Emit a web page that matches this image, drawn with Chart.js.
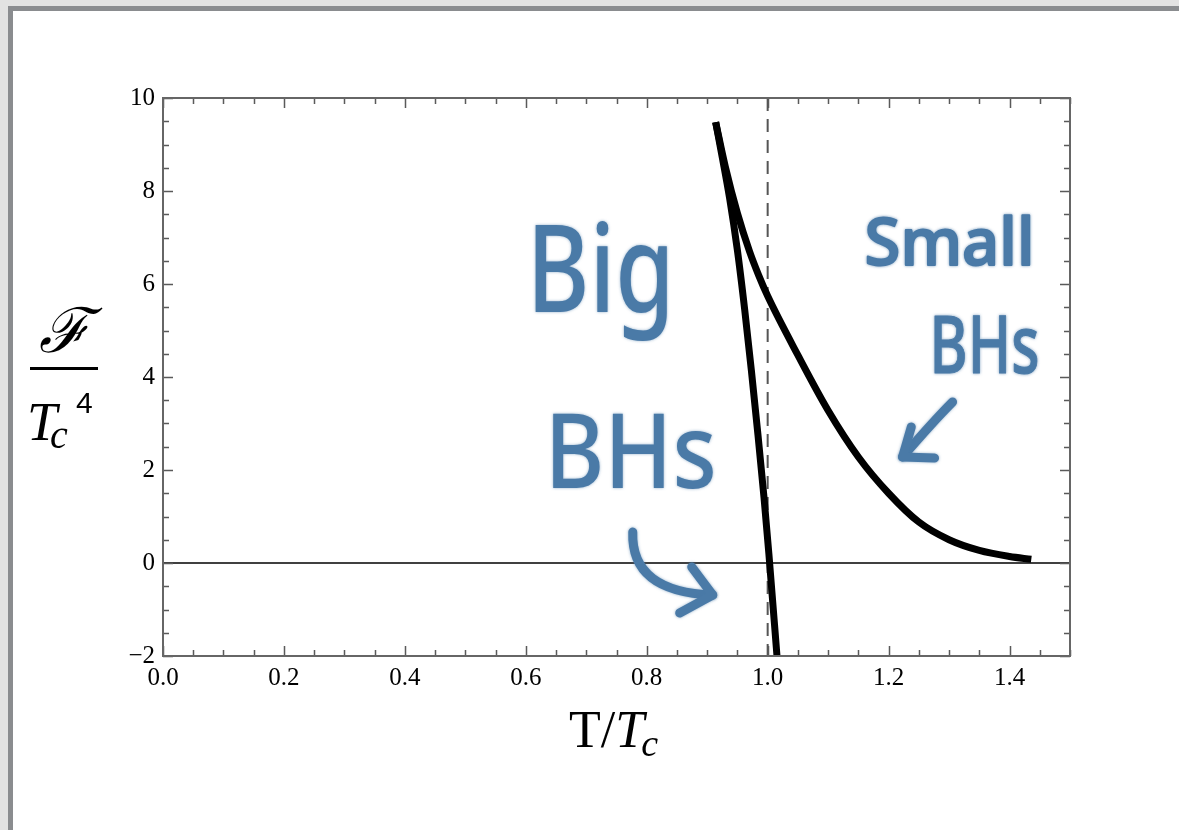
<!DOCTYPE html>
<html><head><meta charset="utf-8">
<script src="https://cdn.jsdelivr.net/npm/chart.js@4.4.0/dist/chart.umd.min.js"></script>
<style>html,body{margin:0;padding:0;background:#e2e2e2;overflow:hidden}canvas{display:block}</style>
</head><body>
<canvas id="c" width="1179" height="830" style="width:1179px;height:830px"></canvas>
<script>
// ---- data ----
const bigT   = [0.914, 0.925, 0.937, 0.950, 0.962, 0.973, 0.984, 0.994, 1.002, 1.0145, 1.016];
const bigF   = [9.48,  8.72,  7.85,  6.72,  5.45,  4.15,  2.75,  1.40,  0.20,  -1.85,  -2.10];
const smallT = [0.914, 0.930, 0.950, 0.970, 0.985, 1.000, 1.050, 1.100, 1.150, 1.200, 1.250, 1.300, 1.350, 1.400, 1.436];
const smallF = [9.48,  8.52,  7.52,  6.70,  6.19,  5.74,  4.47,  3.28,  2.28,  1.50,  0.88,  0.50,  0.27,  0.14,  0.08];
const xTickValues = [0.0, 0.2, 0.4, 0.6, 0.8, 1.0, 1.2, 1.4];
const yTickValues = [-2, 0, 2, 4, 6, 8, 10];
const criticalT = 1.0;

const toPts = (xs, ys) => xs.map((x, i) => ({x, y: ys[i]}));

// ---- annotation layout (data coordinates) ----
const BLUE = '#4a7aa7';
const notes = [
  {text: 'Big',   x0: 0.6017, x1: 0.8463, base: 5.40, size: 122, extra: 0},
  {text: 'BHs',   x0: 0.6314, x1: 0.9157, base: 1.61, size: 104, extra: 0},
  {text: 'Small', x0: 1.1603, x1: 1.4413, base: 6.41, size: 66,  extra: 2},
  {text: 'BHs',   x0: 1.2678, x1: 1.4496, base: 4.09, size: 80,  extra: 1}
];
const arrows = [
  {p0: [0.7769, 0.667], c: [0.7736, -0.624], p1: [0.9091, -0.688], w1: [0.8744, -0.086], w2: [0.8545, -1.075]},
  {p0: [1.3058, 3.462], c: [1.2744, 3.054],  p1: [1.2231, 2.280],  w1: [1.2375, 2.925],  w2: [1.2760, 2.258]}
];

const bgPlugin = {
  id: 'bg',
  beforeDraw(chart) {
    const ctx = chart.ctx;
    ctx.save();
    ctx.fillStyle = '#e2e2e2';
    ctx.fillRect(0, 0, 1179, 830);
    ctx.fillStyle = '#8a8c8f';
    ctx.fillRect(8, 6, 1200, 900);
    ctx.fillStyle = '#ffffff';
    ctx.fillRect(13, 11, 1200, 900);
    ctx.restore();
  },
  beforeDatasetsDraw(chart) {
    const {ctx, chartArea: a, scales: {x, y}} = chart;
    ctx.save();
    ctx.strokeStyle = '#000';
    ctx.lineWidth = 1.4;
    const y0 = y.getPixelForValue(0);
    ctx.beginPath(); ctx.moveTo(a.left, y0); ctx.lineTo(a.right, y0); ctx.stroke();
    ctx.strokeStyle = '#555';
    ctx.lineWidth = 2;
    ctx.setLineDash([13, 8]);
    const xc = x.getPixelForValue(criticalT);
    ctx.beginPath(); ctx.moveTo(xc, a.top); ctx.lineTo(xc, a.bottom); ctx.stroke();
    ctx.restore();
  },
  afterDatasetsDraw(chart) {
    const {ctx, chartArea: a, scales: {x, y}} = chart;
    ctx.save();
    ctx.strokeStyle = '#5a5a5a';
    ctx.lineWidth = 1.5;
    for (let k = 0; k <= 30; k++) {
      const v = k * 0.05;
      const major = k % 4 === 0;
      const len = major ? 10 : 6;
      const px = Math.round(x.getPixelForValue(v)) + 0.5;
      ctx.beginPath();
      ctx.moveTo(px, a.bottom); ctx.lineTo(px, a.bottom - len);
      ctx.moveTo(px, a.top); ctx.lineTo(px, a.top + len);
      ctx.stroke();
    }
    for (let k = 0; k <= 24; k++) {
      const v = -2 + k * 0.5;
      const major = k % 4 === 0;
      const len = major ? 10 : 6;
      const py = Math.round(y.getPixelForValue(v)) + 0.5;
      ctx.beginPath();
      ctx.moveTo(a.left, py); ctx.lineTo(a.left + len, py);
      ctx.moveTo(a.right, py); ctx.lineTo(a.right - len, py);
      ctx.stroke();
    }
    ctx.strokeStyle = '#666';
    ctx.lineWidth = 2;
    ctx.strokeRect(a.left, a.top, a.right - a.left, a.bottom - a.top);
    ctx.restore();
  },
  afterDraw(chart) {
    const {ctx, scales: {x, y}} = chart;
    ctx.save();
    ctx.fillStyle = '#000';
    ctx.textBaseline = 'alphabetic';
    ctx.textAlign = 'left';
    let cx = 569;
    ctx.font = "52px 'Liberation Serif'";
    ctx.fillText('T/', cx, 747);
    cx += ctx.measureText('T/').width;
    ctx.font = "italic 52px 'Liberation Serif'";
    ctx.fillText('T', cx, 747);
    cx += ctx.measureText('T').width - 3;
    ctx.font = "italic 38px 'Liberation Serif'";
    ctx.fillText('c', cx, 756);

    // y title: fraction  F / Tc^4
    ctx.textAlign = 'center';
    ctx.font = "italic 62px 'Liberation Serif', 'DejaVu Serif'";
    ctx.fillText('\u2131', 64, 352);
    ctx.fillRect(30, 367, 68, 3);
    ctx.textAlign = 'left';
    ctx.font = "italic 54px 'Liberation Serif'";
    ctx.fillText('T', 27, 440);
    ctx.font = "italic 40px 'Liberation Serif'";
    ctx.fillText('c', 50, 448);
    ctx.font = "30px 'Liberation Sans'";
    ctx.fillText('4', 76, 413);

    // hand-drawn notes
    ctx.fillStyle = BLUE;
    ctx.strokeStyle = BLUE;
    ctx.lineJoin = 'round';
    ctx.lineCap = 'round';
    ctx.shadowColor = 'rgba(74,122,167,0.6)';
    ctx.shadowBlur = 3;
    notes.forEach(n => {
      const p0 = x.getPixelForValue(n.x0), p1 = x.getPixelForValue(n.x1);
      const pb = y.getPixelForValue(n.base);
      ctx.font = `500 ${n.size}px 'Noto Sans'`;
      const w = ctx.measureText(n.text).width;
      const sx = (p1 - p0) / w;
      ctx.save();
      ctx.translate(p0, pb);
      ctx.scale(sx, 1);
      if (n.extra) { ctx.lineWidth = n.extra; ctx.strokeText(n.text, 0, 0); }
      ctx.fillText(n.text, 0, 0);
      ctx.restore();
    });
    ctx.lineWidth = 9;
    const P = pt => [x.getPixelForValue(pt[0]), y.getPixelForValue(pt[1])];
    arrows.forEach(ar => {
      const a0 = P(ar.p0), c = P(ar.c), a1 = P(ar.p1), w1 = P(ar.w1), w2 = P(ar.w2);
      ctx.beginPath();
      ctx.moveTo(a0[0], a0[1]);
      ctx.quadraticCurveTo(c[0], c[1], a1[0], a1[1]);
      ctx.stroke();
      ctx.beginPath();
      ctx.moveTo(w1[0], w1[1]); ctx.lineTo(a1[0], a1[1]); ctx.lineTo(w2[0], w2[1]);
      ctx.stroke();
    });
    ctx.restore();
  }
};

const tickFont = {family: "'Liberation Serif'", size: 25};

new Chart(document.getElementById('c'), {
  type: 'scatter',
  data: {
    datasets: [
      {label: 'Big BHs', data: toPts(bigT, bigF), showLine: true, borderColor: '#000', borderWidth: 7,
       pointRadius: 0, cubicInterpolationMode: 'monotone', fill: false, borderJoinStyle: 'round'},
      {label: 'Small BHs', data: toPts(smallT, smallF), showLine: true, borderColor: '#000', borderWidth: 7,
       pointRadius: 0, cubicInterpolationMode: 'monotone', fill: false, borderJoinStyle: 'round'}
    ]
  },
  options: {
    responsive: false,
    animation: false,
    devicePixelRatio: 1,
    layout: {padding: {left: 103, top: 98, right: 109, bottom: 124}},
    plugins: {legend: {display: false}, tooltip: {enabled: false}},
    scales: {
      x: {
        type: 'linear', min: 0, max: 1.5,
        grid: {display: false, drawTicks: false}, border: {display: false},
        afterBuildTicks: s => { s.ticks = xTickValues.map(v => ({value: v})); },
        afterFit: s => { s.height = 50; },
        ticks: {color: '#000', font: tickFont, padding: 7, maxRotation: 0, autoSkip: false,
                callback: v => Number(v).toFixed(1)}
      },
      y: {
        type: 'linear', min: -2, max: 10,
        grid: {display: false, drawTicks: false}, border: {display: false},
        afterBuildTicks: s => { s.ticks = yTickValues.map(v => ({value: v})); },
        afterFit: s => { s.width = 60; },
        ticks: {color: '#000', font: tickFont, padding: 8, autoSkip: false,
                callback: v => String(v).replace('-', '\u2212')}
      }
    }
  },
  plugins: [bgPlugin]
});
</script>
</body></html>
